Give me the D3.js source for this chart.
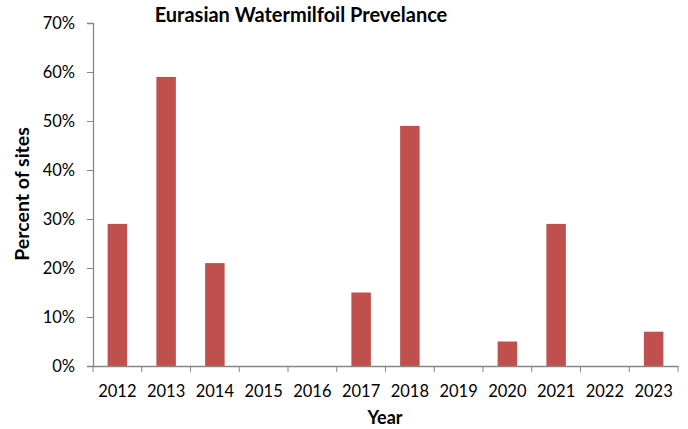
<!DOCTYPE html>
<html>
<head>
<meta charset="utf-8">
<script src="https://cdn.jsdelivr.net/npm/d3@7"></script>
<style>
  body { margin: 0; background: #fff; }
  text { font-family: "Lato", "Liberation Sans", sans-serif; fill: #000; }
</style>
</head>
<body>
<div id="chart-area"></div>
<script>
let width = 688,
    height = 429;

// data
let years = ["2012", "2013", "2014", "2015", "2016", "2017", "2018", "2019", "2020", "2021", "2022", "2023"];
let values = [0.29, 0.59, 0.21, 0, 0, 0.15, 0.49, 0, 0.05, 0.29, 0, 0.07];
let yTicks = [0, 0.1, 0.2, 0.3, 0.4, 0.5, 0.6, 0.7];

let margin = {left: 93, right: 10, top: 23, bottom: 63};

let svg = d3.select("#chart-area").append("svg")
    .attr("width", width)
    .attr("height", height);

let x = d3.scaleBand()
    .domain(years)
    .range([margin.left, width - margin.right])
    .paddingInner(0.6)
    .paddingOuter(0.3);

let y = d3.scaleLinear()
    .domain([0, 0.7])
    .range([height - margin.bottom, margin.top]);

// bars
svg.selectAll(".bar")
    .data(values)
    .enter().append("rect")
    .attr("class", "bar")
    .attr("x", function(d, i) { return x(years[i]); })
    .attr("y", function(d) { return y(d); })
    .attr("width", x.bandwidth())
    .attr("height", function(d) { return y(0) - y(d); })
    .attr("fill", "#c0504d");

// y axis
let yAxis = svg.append("g")
    .attr("transform", "translate(" + margin.left + ",0)")
    .call(d3.axisLeft(y).tickValues(yTicks).tickFormat(d3.format(".0%")).tickSize(6).tickPadding(12));

// x axis, ticks on band boundaries
let xAxis = svg.append("g")
    .attr("transform", "translate(0," + y(0) + ")")
    .call(d3.axisBottom(x).tickSize(0).tickPadding(19));

xAxis.selectAll(".bound")
    .data(years.concat(["end"]))
    .enter().append("line")
    .attr("class", "bound")
    .attr("x1", function(d, i) { return margin.left + i * x.step(); })
    .attr("x2", function(d, i) { return margin.left + i * x.step(); })
    .attr("y1", 0)
    .attr("y2", 6)
    .attr("stroke", "#868686");

[xAxis, yAxis].forEach(function(g) {
  g.select(".domain").attr("stroke", "#868686").attr("stroke-width", 1.3);
  g.selectAll(".tick line").attr("stroke", "#868686");
  g.selectAll(".tick text").style("font-size", "16.5px").attr("fill", "#000");
});
yAxis.selectAll(".tick text").attr("dy", "0.35em");

// labels
svg.append("text")
    .attr("x", 301)
    .attr("y", 22)
    .attr("text-anchor", "middle")
    .style("font-size", "20px")
    .style("font-weight", "bold")
    .text("Eurasian Watermilfoil Prevelance");

svg.append("text")
    .attr("transform", "translate(29,194) rotate(-90)")
    .attr("text-anchor", "middle")
    .style("font-size", "19.5px")
    .style("font-weight", "bold")
    .text("Percent of sites");

svg.append("text")
    .attr("x", 385)
    .attr("y", 424)
    .attr("text-anchor", "middle")
    .style("font-size", "18px")
    .style("font-weight", "bold")
    .text("Year");
</script>
</body>
</html>
